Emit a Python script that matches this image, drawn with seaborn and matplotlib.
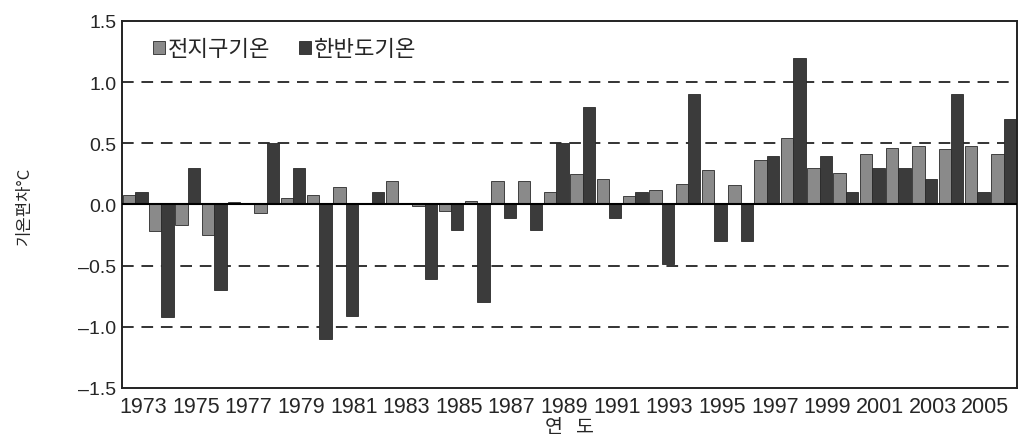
import matplotlib
matplotlib.use("Agg")
import matplotlib.pyplot as plt
import matplotlib.transforms as mtransforms
import seaborn as sns
import pandas as pd

# Data
years = list(range(1973, 2007))
global_temp = [0.08, -0.22, -0.17, -0.25, 0.02, -0.07, 0.05, 0.08, 0.14, 0.00,
               0.19, -0.01, -0.05, 0.03, 0.19, 0.19, 0.10, 0.25, 0.21, 0.07,
               0.12, 0.17, 0.28, 0.16, 0.36, 0.54, 0.30, 0.26, 0.41, 0.46,
               0.48, 0.45, 0.48, 0.41]
korea_temp = [0.10, -0.92, 0.30, -0.70, 0.01, 0.50, 0.30, -1.10, -0.91, 0.10,
              0.00, -0.61, -0.21, -0.80, -0.11, -0.21, 0.50, 0.80, -0.11, 0.10,
              -0.49, 0.90, -0.30, -0.30, 0.40, 1.20, 0.40, 0.10, 0.30, 0.30,
              0.21, 0.90, 0.10, 0.70]
series_names = ["전지구기온", "한반도기온"]
y_ticks = [-1.5, -1.0, -0.5, 0.0, 0.5, 1.0, 1.5]

df = pd.DataFrame({"year": years, series_names[0]: global_temp, series_names[1]: korea_temp})
df = df.melt(id_vars="year", var_name="series", value_name="value")

sns.set_style("white")
plt.rcParams["font.family"] = ["Noto Sans CJK KR", "DejaVu Sans"]
plt.rcParams["axes.unicode_minus"] = False

fig = plt.figure(figsize=(10.21, 4.39), dpi=100)
ax = fig.add_axes([0.1195, 0.114, 0.8765, 0.836])

sns.barplot(data=df, x="year", y="value", hue="series", hue_order=series_names,
            palette=["#8a8a8a", "#3b3b3b"], width=0.94, edgecolor="#2a2a2a",
            linewidth=0.6, ax=ax)

ax.set_ylim(-1.5, 1.5)
ax.set_xlim(-0.5, len(years) - 0.5)
ax.set_yticks(y_ticks)
ax.set_yticklabels([f"{v:.1f}".replace("-", "–") for v in y_ticks], fontsize=14,
                   family=["Liberation Sans", "DejaVu Sans"])

tick_pos = [i for i, y in enumerate(years) if y % 2 == 1]
ax.set_xticks(tick_pos)
ax.set_xticklabels([str(years[i]) for i in tick_pos], fontsize=15.5,
                   family=["Liberation Sans Narrow", "Liberation Sans", "DejaVu Sans"])
ax.tick_params(axis="x", length=0, pad=6)
ax.tick_params(axis="y", length=0, pad=4)
shift = mtransforms.ScaledTranslation(8 / 100, 0, fig.dpi_scale_trans)
for lab in ax.get_xticklabels():
    lab.set_transform(lab.get_transform() + shift)

for v in [1.0, 0.5, -0.5, -1.0]:
    ax.axhline(v, color="#333333", linestyle=(0, (6, 4)), linewidth=1.4, zorder=0)
ax.axhline(0, color="black", linewidth=1.5, zorder=3)

for s in ax.spines.values():
    s.set_color("#222222")
    s.set_linewidth(1.4)

ax.set_ylabel("기온편차°C", fontsize=12, labelpad=33)
ax.set_xlabel("연   도", fontsize=14, labelpad=-1)

ax.legend(loc="upper left", ncol=2, frameon=False, fontsize=16,
          handlelength=0.55, handleheight=0.55, handletextpad=0.12,
          columnspacing=1.3, bbox_to_anchor=(0.012, 1.01))

fig.savefig("out.png", dpi=100)
